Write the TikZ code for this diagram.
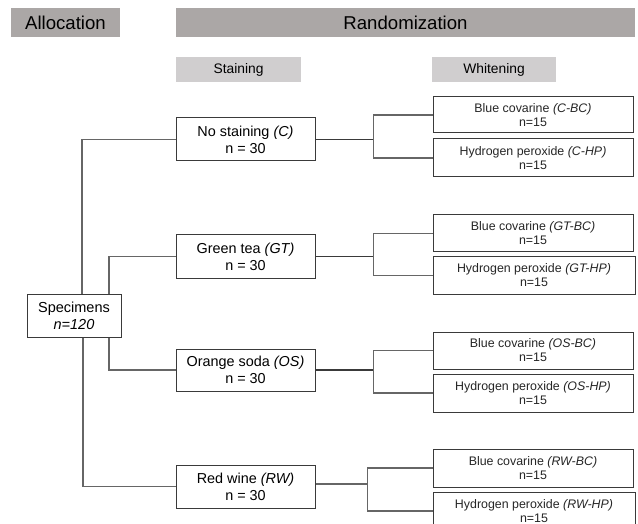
\documentclass[tikz,border=0pt]{standalone}
\usepackage{fontspec}
\setmainfont{Liberation Sans}
\definecolor{hdrdark}{HTML}{ABA7A6}
\definecolor{hdrlight}{HTML}{D0CECF}
\definecolor{linegrey}{HTML}{666666}
\definecolor{boxline}{HTML}{3A3A3A}
\definecolor{txtgrey}{HTML}{262626}
\begin{document}
\begin{tikzpicture}[x=1pt,y=-1pt,
  hdr/.style={fill=hdrdark, inner sep=0pt, font=\fontsize{18.6}{22}\selectfont},
  subhdr/.style={fill=hdrlight, inner sep=0pt, minimum height=25pt, font=\fontsize{13.8}{16}\selectfont},
  stainbox/.style={draw=boxline, fill=white, line width=1pt, inner sep=0pt,
    minimum width=139pt, minimum height=43pt, align=center,
    font=\fontsize{14.4}{17}\selectfont},
  specbox/.style={draw=boxline, fill=white, line width=1pt, inner sep=0pt,
    minimum width=94pt, minimum height=43pt, align=center,
    font=\fontsize{14.5}{17}\selectfont},
  whitebox/.style={draw=boxline, fill=white, line width=1pt, inner sep=0pt,
    minimum width=200pt, minimum height=37pt, align=center, text=txtgrey,
    font=\fontsize{12.4}{14}\selectfont},
  conn/.style={draw=linegrey, line width=1.1pt},
  trunk/.style={draw=boxline, line width=1.4pt}
]
\useasboundingbox (0,0) rectangle (638,524);
\clip (0,0) rectangle (638,524);
% headers
\node[hdr, minimum width=109pt, minimum height=29pt] (alloc) at (65.5,22.5) {Allocation};
\node[hdr, minimum width=459pt, minimum height=29pt] (rand) at (405.5,22.5) {Randomization};
\node[subhdr, minimum width=125pt] (stainhdr) at (238.5,69.5) {Staining};
\node[subhdr, minimum width=124pt] (whitehdr) at (494,69.5) {Whitening};
% specimens
\node[specbox] (spec) at (74,315.5) {Specimens\\\textit{n=120}};
% staining boxes
\node[stainbox] (C) at (245.5,139.5) {No staining \textit{(C)}\\n = 30};
\node[stainbox] (GT) at (245.5,256.5) {Green tea \textit{(GT)}\\n = 30};
\node[stainbox, minimum height=42pt] (OS) at (245.5,370) {Orange soda \textit{(OS)}\\n = 30};
\node[stainbox] (RW) at (245.5,486.5) {Red wine \textit{(RW)}\\n = 30};
% whitening boxes
\node[whitebox, minimum height=36pt] (CBC) at (533,115) {Blue covarine \textit{(C-BC)}\\n=15};
\node[whitebox, minimum height=38pt] (CHP) at (533,158) {Hydrogen peroxide \textit{(C-HP)}\\n=15};
\node[whitebox] (GTBC) at (533,233.5) {Blue covarine \textit{(GT-BC)}\\n=15};
\node[whitebox, minimum width=202pt] (GTHP) at (534,275.5) {Hydrogen peroxide \textit{(GT-HP)}\\n=15};
\node[whitebox] (OSBC) at (533,350.5) {Blue covarine \textit{(OS-BC)}\\n=15};
\node[whitebox, minimum height=38pt] (OSHP) at (533,393) {Hydrogen peroxide \textit{(OS-HP)}\\n=15};
\node[whitebox, minimum height=38pt] (RWBC) at (533,468) {Blue covarine \textit{(RW-BC)}\\n=15};
\node[whitebox, minimum width=202pt, minimum height=38pt] (RWHP) at (534,511) {Hydrogen peroxide \textit{(RW-HP)}\\n=15};
% specimens to staining
\draw[conn] ([xshift=8pt]spec.north) |- (C.west);
\draw[conn] ([xshift=35pt]spec.north) |- (GT.west);
\draw[conn] ([xshift=35pt]spec.south) |- (OS.west);
\draw[conn] ([xshift=9pt]spec.south) |- (RW.west);
% staining to whitening
\draw[trunk] (C.east) -- ++(58,0) coordinate (jC);
\draw[conn] (CBC.west) -| (jC) |- (CHP.west);
\draw[trunk] (GT.east) -- ++(58,0) coordinate (jGT);
\draw[conn] (GTBC.west) -| (jGT) |- (GTHP.west);
\draw[trunk] (OS.east) -- ++(58,0) coordinate (jOS);
\draw[conn] (OSBC.west) -| (jOS) |- (OSHP.west);
\draw[conn] ([yshift=2.5pt]RW.east) -- ++(52,0) coordinate (jRW);
\draw[conn] (RWBC.west) -| (jRW) |- (RWHP.west);
\end{tikzpicture}
\end{document}
